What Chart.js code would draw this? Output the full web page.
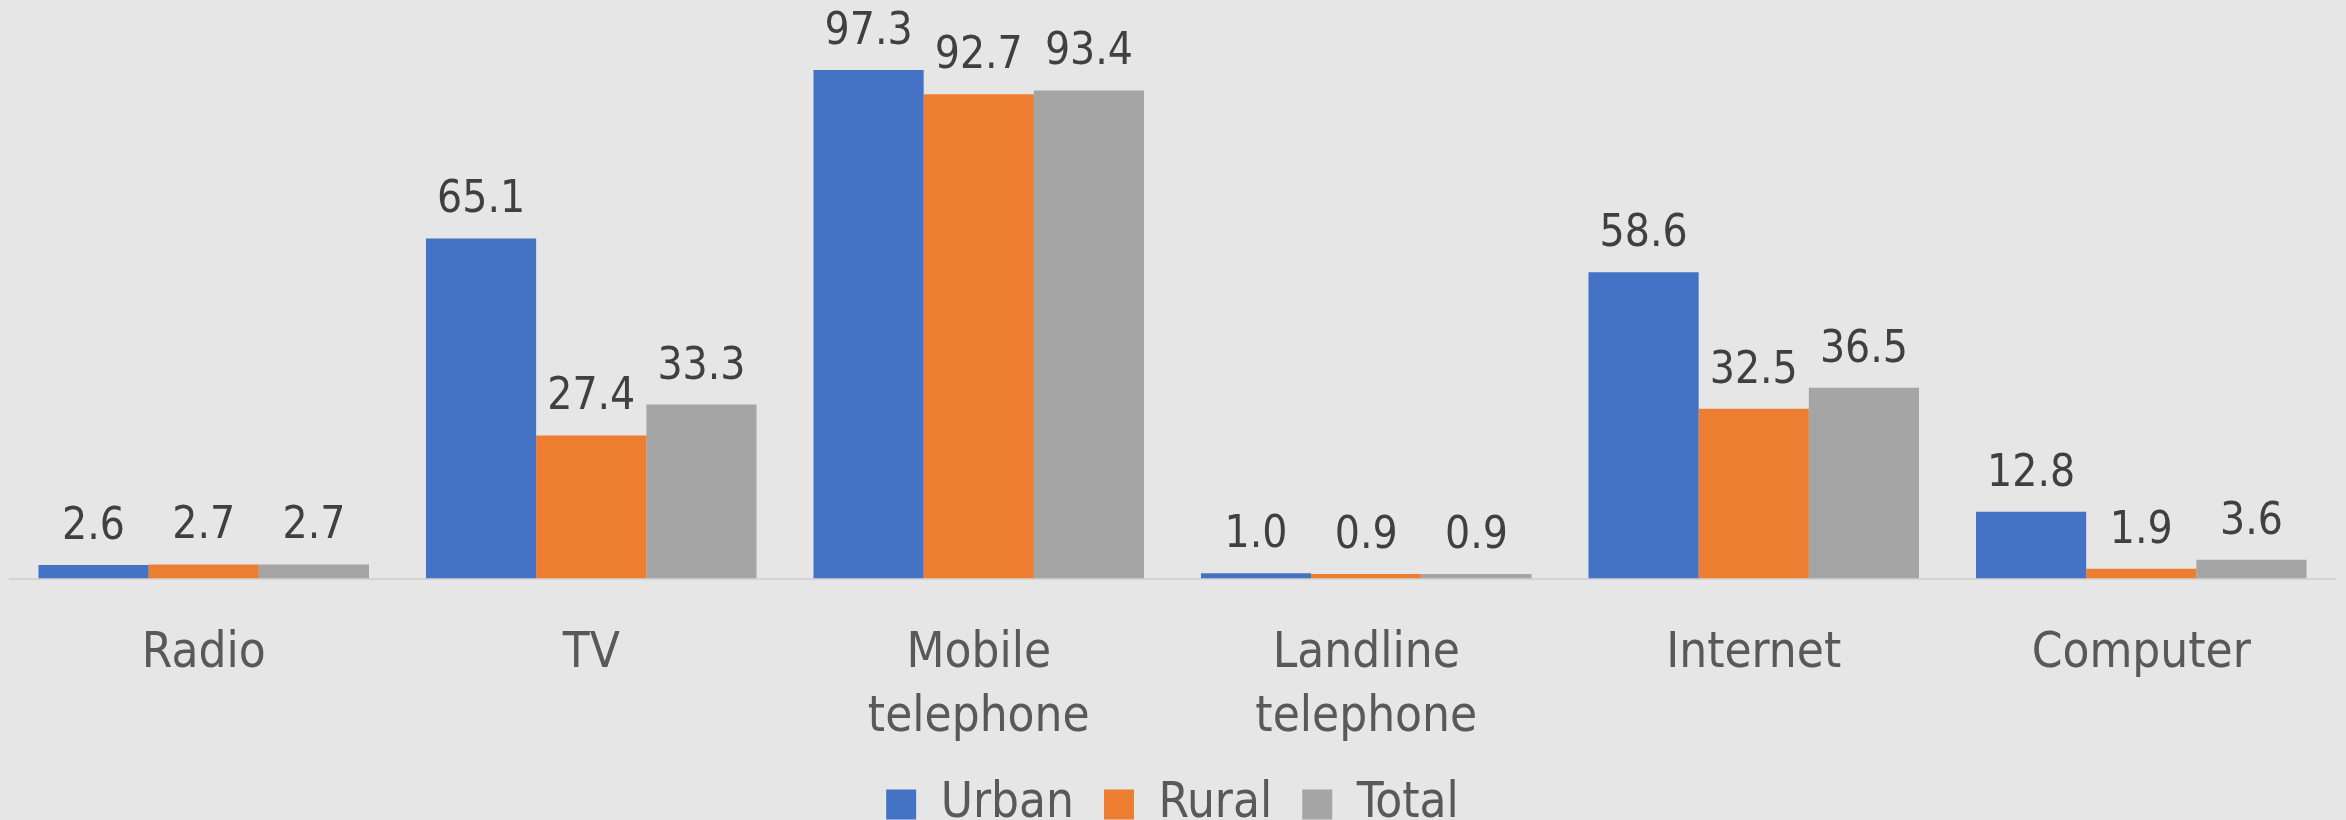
<!DOCTYPE html>
<html>
<head>
<meta charset="utf-8">
<script src="https://cdn.jsdelivr.net/npm/chart.js@4.4.1/dist/chart.umd.min.js"></script>
<style>
  html, body { margin: 0; padding: 0; background: #E6E6E6; }
  #wrap { width: 2346px; height: 820px; }
</style>
</head>
<body>
<div id="wrap"><canvas id="accessChart"></canvas></div>
<script>
const categories = ['Radio', 'TV', ['Mobile', 'telephone'], ['Landline', 'telephone'], 'Internet', 'Computer'];
const urbanValues = [2.6, 65.1, 97.3, 1.0, 58.6, 12.8];
const ruralValues = [2.7, 27.4, 92.7, 0.9, 32.5, 1.9];
const totalValues = [2.7, 33.3, 93.4, 0.9, 36.5, 3.6];

const FONT = '"Liberation Sans Narrow", "Arial Narrow", "DejaVu Sans Condensed", sans-serif';

// draws the value above each bar (no datalabels plugin offline)
const valueLabels = {
  id: 'valueLabels',
  afterDatasetsDraw(chart) {
    const ctx = chart.ctx;
    ctx.save();
    ctx.font = '44px ' + FONT;
    ctx.fillStyle = '#404040';
    ctx.textAlign = 'center';
    ctx.textBaseline = 'alphabetic';
    chart.data.datasets.forEach((ds, i) => {
      const meta = chart.getDatasetMeta(i);
      meta.data.forEach((bar, j) => {
        ctx.fillText(ds.data[j].toFixed(1), bar.x, bar.y - 26);
      });
    });
    ctx.restore();
  }
};

new Chart(document.getElementById('accessChart'), {
  type: 'bar',
  data: {
    labels: categories,
    datasets: [
      { label: 'Urban', data: urbanValues, backgroundColor: '#4472C4', borderWidth: 0 },
      { label: 'Rural', data: ruralValues, backgroundColor: '#ED7D31', borderWidth: 0 },
      { label: 'Total', data: totalValues, backgroundColor: '#A5A5A5', borderWidth: 0 }
    ]
  },
  options: {
    responsive: true,
    maintainAspectRatio: false,
    animation: false,
    layout: {
      padding: { top: 56, left: 10, right: 11, bottom: -19 }
    },
    datasets: {
      bar: { categoryPercentage: 0.853, barPercentage: 1.0 }
    },
    plugins: {
      legend: {
        position: 'bottom',
        labels: {
          boxWidth: 30,
          boxHeight: 30,
          padding: 30,
          color: '#595959',
          font: { family: FONT, size: 49 }
        }
      },
      tooltip: { enabled: false }
    },
    scales: {
      x: {
        grid: { display: false, drawTicks: false },
        border: { display: true, color: '#D4D4D4', width: 2 },
        ticks: {
          color: '#595959',
          padding: 44,
          maxRotation: 0,
          autoSkip: false,
          font: { family: FONT, size: 49, lineHeight: 1.3 }
        },
        // pull the legend closer to the category labels
        afterFit(scale) {
          scale.height -= 44;
        }
      },
      y: {
        display: false,
        min: 0,
        max: 100
      }
    }
  },
  plugins: [valueLabels]
});
</script>
</body>
</html>
